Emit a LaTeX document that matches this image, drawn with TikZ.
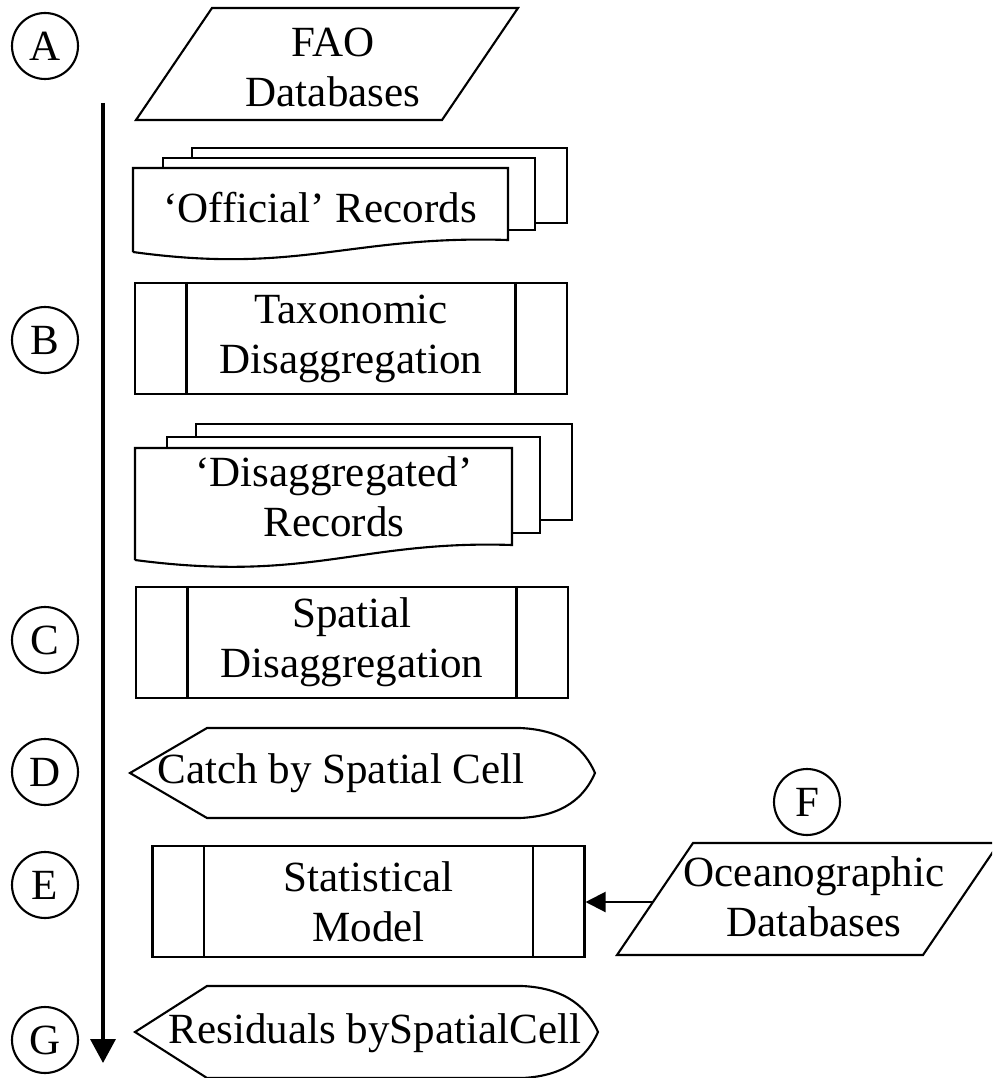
\documentclass[tikz,border=0pt]{standalone}
\usepackage{fontspec}
\setmainfont{Liberation Serif}
\usetikzlibrary{arrows.meta}

\begin{document}
\begin{tikzpicture}[x=0.02cm, y=-0.02cm, line width=1.2pt,
	every node/.style={font=\fontsize{24.5}{28.5}\selectfont, align=center},
	stage/.style={draw, circle, minimum size=1.32cm, inner sep=0pt},
	procbox/.style={draw, rectangle, minimum width=8.64cm, minimum height=2.22cm}]
	\clip (0, 0) rectangle (992, 1078);

	% stage markers
	\node[stage] at (45, 46)	(SA)	{A};
	\node[stage] at (45, 340)	(SB)	{B};
	\node[stage] at (45, 640)	(SC)	{C};
	\node[stage] at (45, 772)	(SD)	{D};
	\node[stage] at (45, 885)	(SE)	{E};
	\node[stage] at (807, 802)	(SF)	{F};
	\node[stage] at (45, 1040)	(SG)	{G};

	% data sources
	\draw (136, 120) -- (212, 8) -- (518, 8) -- (442, 120) -- cycle;
	\node at (333, 67) (FAO)	{FAO\\Databases};
	\draw (617, 955) -- (693, 843) -- (999, 843) -- (923, 955) -- cycle;
	\node at (814, 897) (OCN)	{Oceanographic\\Databases};
	\coordinate (OCNin) at (653, 902);

	% record stacks
	\draw (192, 158) -- (192, 148) -- (567, 148) -- (567, 223) -- (535, 223);
	\draw (163, 168) -- (163, 158) -- (535, 158) -- (535, 230) -- (508, 230);
	\draw (133, 252) -- (133, 168) -- (508, 168) -- (508, 240)
		.. controls (350, 235) and (300, 275) .. (133, 252);
	\node at (320, 208) (OFF)	{`Official' Records};

	\draw (196, 437) -- (196, 424) -- (572, 424) -- (572, 520) -- (540, 520);
	\draw (167, 448) -- (167, 437) -- (540, 437) -- (540, 533) -- (512, 533);
	\draw (135, 560) -- (135, 448) -- (512, 448) -- (512, 545)
		.. controls (360, 540) and (310, 583) .. (135, 560);
	\node at (334, 497) (DIS)	{`Disaggregated'\\Records};

	% processes
	\node[procbox] at (351, 338.5) (TAX)	{Taxonomic\\Disaggregation};
	\node[procbox] at (352, 642.5) (SPA)	{Spatial\\Disaggregation};
	\node[procbox] at (368.5, 901.5) (STM)	{Statistical\\Model};
	\foreach \p in {TAX, SPA, STM} {
		\draw ([xshift=1.05cm]\p.north west) -- ([xshift=1.05cm]\p.south west);
		\draw ([xshift=-1.05cm]\p.north east) -- ([xshift=-1.05cm]\p.south east);
	}

	% displays
	\draw (130, 773) -- (207, 728) -- (520, 728)
		.. controls (565, 730) and (585, 750) .. (595, 773)
		.. controls (585, 796) and (565, 816) .. (520, 818) -- (207, 818) -- cycle;
	\node at (341, 773) (CATCH)	{Catch by Spatial Cell};
	\draw (135, 1032) -- (207, 986) -- (522, 986)
		.. controls (567, 988) and (588, 1009) .. (598, 1032)
		.. controls (588, 1055) and (567, 1076) .. (522, 1078) -- (207, 1078) -- cycle;
	\node at (375, 1033) (RES)	{Residuals bySpatialCell};

	% flow
	\coordinate (top) at (103, 103);
	\coordinate (bot) at (103, 1063);
	\draw [line width=2pt, -{Triangle[width=0.5cm, length=0.48cm]}] (top) -- (bot);
	\draw [-{Triangle[width=0.4cm, length=0.4cm]}] (OCNin) -- (STM.east |- OCNin);
\end{tikzpicture}
\end{document}
